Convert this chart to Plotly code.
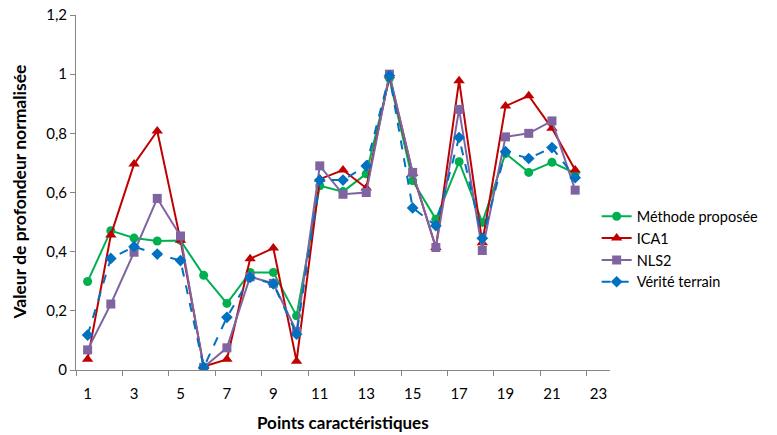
import plotly.graph_objects as go

points = list(range(1, 23))
methode = [0.299, 0.471, 0.446, 0.436, 0.438, 0.320, 0.225, 0.330, 0.330, 0.183, 0.623,
           0.603, 0.663, 0.986, 0.640, 0.510, 0.704, 0.499, 0.732, 0.668, 0.702, 0.665]
ica1 = [0.036, 0.456, 0.696, 0.808, 0.439, 0.012, 0.036, 0.376, 0.412, 0.030, 0.645,
        0.676, 0.615, 0.995, 0.665, 0.414, 0.978, 0.430, 0.892, 0.927, 0.817, 0.676]
nls2 = [0.068, 0.223, 0.398, 0.580, 0.453, 0.009, 0.075, 0.315, 0.293, 0.130, 0.690,
        0.594, 0.600, 1.000, 0.668, 0.414, 0.881, 0.404, 0.788, 0.800, 0.842, 0.608]
verite = [0.118, 0.377, 0.417, 0.392, 0.370, 0.009, 0.178, 0.313, 0.291, 0.121, 0.642,
          0.642, 0.690, 0.995, 0.548, 0.488, 0.786, 0.445, 0.738, 0.715, 0.752, 0.650]
x_labels = [str(v) for v in range(1, 24, 2)]

FONT = "Lato"
fig = go.Figure()
series = [
    ("Méthode proposée", methode, "#00B050", "circle", "solid", 9),
    ("ICA1", ica1, "#C00000", "triangle-up", "solid", 10),
    ("NLS2", nls2, "#8064A2", "square", "solid", 9),
    ("Vérité terrain", verite, "#0070C0", "diamond", "dash", 9),
]
for name, vals, col, sym, dash, size in series:
    fig.add_trace(go.Scatter(
        x=points, y=vals, name=name, mode="lines+markers",
        line=dict(color=col, width=2, dash=dash),
        marker=dict(color=col, symbol=sym, size=size),
    ))

fig.update_layout(
    width=777, height=435,
    margin=dict(l=76, r=167, t=15, b=65, autoexpand=False),
    plot_bgcolor="white", paper_bgcolor="white",
    separators=", ",
    font=dict(family=FONT, size=15, color="black"),
    showlegend=True,
    legend=dict(x=0.975, xanchor="left", y=0.34, yanchor="middle",
                font=dict(family=FONT, size=14.5), tracegroupgap=0,
                bgcolor="rgba(0,0,0,0)", itemwidth=30),
    annotations=[
        dict(text="<b>Points caractéristiques</b>", xref="paper", yref="paper",
             x=0.5, y=-52 / 355, xanchor="center", yanchor="middle", showarrow=False,
             font=dict(family=FONT, size=17)),
        dict(text="<b>Valeur de profondeur normalisée</b>", xref="paper", yref="paper",
             x=-57 / 534.5, y=0.5, xanchor="center", yanchor="middle", showarrow=False,
             textangle=-90, font=dict(family=FONT, size=17.5)),
    ],
)
fig.update_xaxes(
    range=[0.5, 23.5], tickmode="array",
    tickvals=list(range(1, 24, 2)), ticktext=x_labels,
    ticks="", showgrid=False, zeroline=False, automargin=False,
    showline=True, linecolor="#868686", linewidth=1,
    minor=dict(tickmode="array", tickvals=[0.5 + 2 * k for k in range(12)],
               ticks="outside", ticklen=5, tickcolor="#868686", showgrid=False),
    ticklabelstandoff=10,
)
fig.update_yaxes(
    range=[0, 1.2], dtick=0.2, tick0=0,
    ticks="outside", ticklen=5, tickcolor="#868686",
    showgrid=False, zeroline=False, automargin=False,
    showline=True, linecolor="#868686", linewidth=1,
)

fig.write_html("out.html", config={"displayModeBar": False},
               post_script="document.body.style.margin='0';document.body.style.overflow='hidden';")
